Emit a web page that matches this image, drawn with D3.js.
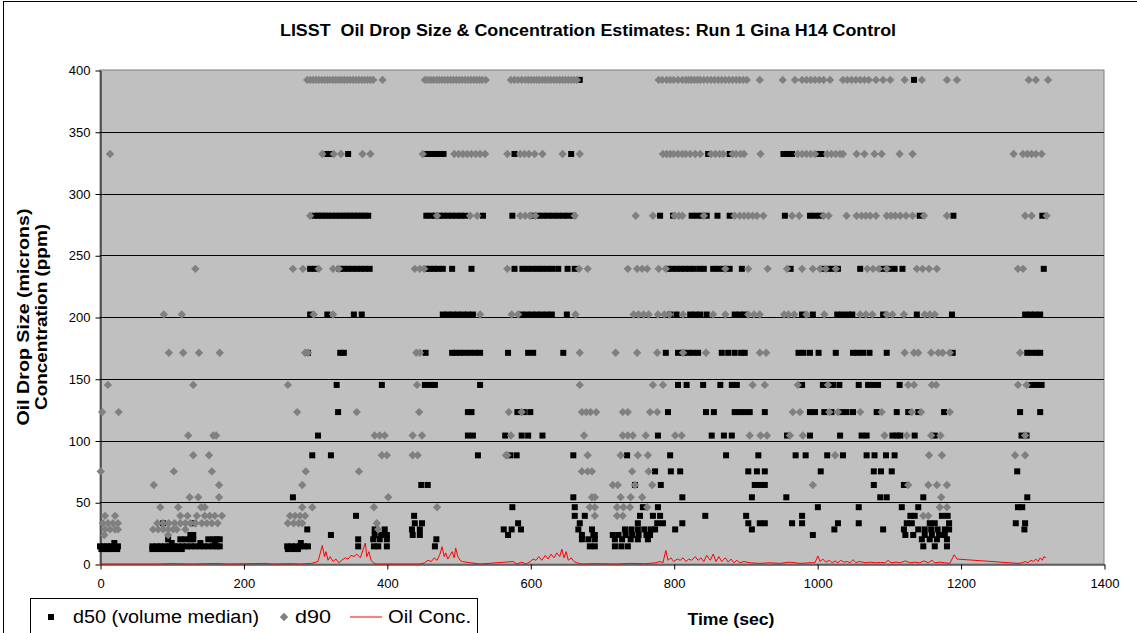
<!DOCTYPE html>
<html><head><meta charset="utf-8">
<script src="https://cdn.jsdelivr.net/npm/d3@7"></script>
<style>
body{margin:0;background:#fff;}
text{font-family:"Liberation Sans",Arial,sans-serif;}
</style>
</head><body>
<svg id="c" width="1137" height="633"></svg>
<script>
// ---- data (time in s, size in microns) ----
const title = "LISST  Oil Drop Size & Concentration Estimates: Run 1 Gina H14 Control";
const xTicks = [0,200,400,600,800,1000,1200,1400];
const yTicks = [0,50,100,150,200,250,300,350,400];

// d50 (volume median): [size bin, times at which d50 fell in that bin]
const d50Rows = [
 [392,[669,1135]],
 [332,[317,321,346,455,461,467,473,479,578,657,848,878,953,959,965,1000,1006]],
 [282,[299,304,309,314,319,324,329,334,339,344,349,354,359,364,369,374,455,461,467,473,479,485,491,497,503,509,534,575,602,611,618,625,632,639,646,653,660,781,799,825,832,839,846,861,878,955,990,997,1004,1143,1190,1314]],
 [239,[293,300,334,340,346,352,358,364,370,376,455,460,466,471,478,491,518,578,589,596,603,610,617,624,631,639,652,662,792,798,804,810,816,822,828,836,842,855,862,870,878,895,963,1008,1015,1022,1029,1060,1092,1100,1108,1119,1316]],
 [202,[293,317,354,365,478,485,492,499,506,513,520,588,595,602,609,616,623,630,651,795,804,823,830,837,846,885,892,899,979,994,1028,1035,1043,1049,1092,1139,1188,1290,1297,1304,1311]],
 [171,[290,335,340,454,491,496,502,509,516,523,530,569,597,604,646,789,806,813,820,827,834,867,876,885,894,899,974,981,990,1002,1026,1050,1057,1064,1073,1097,1189,1293,1299,1306,1311]],
 [145,[330,393,453,460,467,530,806,818,841,865,881,888,979,1008,1015,1022,1031,1058,1071,1078,1085,1115,1299,1306,1313]],
 [123,[332,513,518,582,591,600,792,845,856,885,892,899,906,927,990,997,1010,1020,1034,1041,1050,1083,1111,1127,1141,1177,1283,1311]],
 [104,[304,513,520,565,588,597,617,778,853,870,881,958,990,1032,1062,1069,1105,1111,1116,1136,1164,1285,1292]],
 [88,[296,322,527,572,581,660,735,795,873,918,970,984,1014,1036,1069,1080,1096,1108]],
 [75,[774,796,809,904,916,927,1005,1079,1089,1104,1279]],
 [64,[448,457,746,782,913,920,927,1079,1121]],
 [54,[269,660,812,909,957,1088,1097,1148,1293]],
 [46,[575,662,757,778,1001,1058,1118,1141,1280,1286]],
 [39,[357,438,662,676,753,771,781,844,901,979,1130,1136,1174,1182]],
 [33,[88,131,439,449,583,669,750,777,785,812,904,920,927,965,979,1029,1058,1125,1132,1157,1164,1184,1277,1290]],
 [28,[289,383,397,435,446,563,574,587,667,686,732,741,750,759,768,774,802,909,1024,1092,1121,1141,1150,1159,1168,1178,1184,1289]],
 [23.5,[126,130,322,383,392,400,436,446,569,672,688,690,715,723,733,742,751,762,767,994,1123,1134,1150,1160,1170,1178]],
 [20,[95,112,119,126,130,151,158,163,167,360,381,390,400,469,672,681,690,718,728,740,750,764,1146,1157,1167,1181]],
 [17,[20,100,140,160,280]],
 [14.3,[0,5,10,15,20,25,73,79,85,91,97,103,109,115,121,127,133,139,145,151,157,163,167,261,267,273,279,285,290,360,382,388,400,467,683,690,718,727,736,1148,1164,1181]],
 [12.1,[2,8,13,18,24,73,79,85,91,97,103,109,114,262,270,276]]
];

// d90: [size bin, times]
const d90Rows = [
 [392,[289,293,297,301,305,309,313,317,321,325,329,333,337,341,345,349,353,357,361,365,369,373,377,381,394,453,457,461,465,469,473,477,481,485,489,493,497,501,505,509,513,517,521,525,529,533,538,573,578,583,588,593,597,601,605,609,613,617,621,625,629,633,637,641,645,649,653,657,661,665,779,784,790,795,800,806,812,817,821,825,829,833,837,842,847,852,857,862,867,872,877,882,887,892,897,902,920,952,969,979,985,991,997,1003,1009,1018,1036,1042,1048,1054,1060,1066,1072,1082,1092,1102,1122,1146,1181,1195,1295,1305,1322]],
 [332,[14,310,326,336,366,377,450,494,500,506,512,518,524,530,537,568,586,592,598,606,617,645,669,785,790,795,800,806,812,817,823,830,837,852,858,864,869,882,887,893,898,921,973,979,985,991,997,1014,1020,1026,1032,1036,1055,1066,1080,1090,1115,1133,1274,1287,1293,1299,1305,1313]],
 [282,[293,470,516,526,586,593,600,607,662,747,771,801,807,812,842,885,892,898,904,910,916,925,965,975,1009,1016,1041,1055,1062,1068,1074,1082,1097,1103,1109,1116,1124,1133,1149,1181,1290,1299,1320]],
 [239,[133,269,283,305,325,333,439,446,452,568,668,680,736,749,756,763,779,789,872,904,931,958,979,994,1004,1012,1026,1070,1078,1086,1097,1139,1147,1156,1167,1280,1287]],
 [202,[89,114,298,325,530,574,583,663,744,751,758,765,778,787,794,813,855,872,904,912,920,954,960,968,985,1010,1060,1068,1077,1097,1105,1121,1150,1157,1164]],
 [171,[96,116,138,167,286,290,441,446,669,719,749,777,813,845,920,929,1122,1135,1141,1159,1169,1175,1185,1283]],
 [145,[11,130,262,442,669,771,785,910,927,973,1015,1127,1135,1160,1166,1280,1292]],
 [123,[3,26,275,358,445,570,588,672,678,684,692,729,736,767,777,966,976,1017,1029,1060,1090,1132,1145,1185]],
 [104,[123,158,162,383,390,397,436,449,573,675,729,736,743,761,802,811,906,921,930,962,980,1094,1125,1159,1172,1290]],
 [88,[130,152,393,400,436,443,566,568,680,726,750,764,1025,1156,1174,1276,1290]],
 [75,[1,103,156,287,361,672,680,686,742,765]],
 [64,[75,166,282,715,722,746,770,994,1127,1155,1167,1181]],
 [54,[125,137,166,402,686,690,726,740,756,1173]],
 [46,[84,109,141,146,282,296,382,470,683,690,721,730,739,763,1171,1181]],
 [39,[7,21,112,122,135,146,153,160,170,265,272,279,286,690,721,729,1148,1155]],
 [33,[4,11,18,25,80,88,96,104,112,119,126,133,142,149,156,164,262,270,277,282,386]],
 [28,[7,14,21,25,74,81,88,95,102,107,119,388]],
 [23.5,[6,95]]
];

// Oil concentration (ppm): [time, ppm]
const oilConc = [[0,0],[80,0],[100,0.3],[130,0],[160,0.4],[180,0],[230,0.5],[240,0],[265,0.3],[280,0],[295,0.5],
 [304,2],[310,15],[313,6],[315,10],[318,3],[321,6],[325,2],[329,4],[333,1],[337,3],[342,5],[346,4],[350,7],[354,6],[358,8],[363,5],[367,12],[370,17],[372,6],[375,10],[378,3],[381,1],[385,0],
 [446,0],[453,1],[457,3],[462,2],[466,5],[470,3],[474,8],[477,14],[480,6],[482,9],[485,4],[488,7],[491,10],[494,5],[496,13],[499,6],[502,3],[505,2],[516,1],[530,0],
 [576,2],[581,0],[588,1.5],[594,0],[600,2],[604,4],[608,3],[612,6],[616,3],[621,7],[625,4],[629,8],[633,5],[637,9],[641,6],[644,12],[647,5],[650,10],[653,3],[657,5],[661,2],[665,1],[672,0],
 [690,0.3],[720,0],[740,0.5],[760,0.2],[775,1],[781,2],[785,1],[789,11],[792,3],[796,5],[800,2],[805,4],[809,3],[813,5],[817,2],[821,4],[825,3],[830,6],[834,3],[838,5],[842,2],[846,7],[851,3],[855,8],[859,2],[863,6],[867,2],[872,5],[876,1.5],[880,4],[884,1],[888,3],[892,1],[898,2],
 [906,1],[920,0.5],[934,1],[948,0.5],[962,1.5],[976,0.5],[990,1],[997,1],[1001,6.5],[1004,2],[1008,4],[1012,1.5],[1017,3],[1021,1],[1025,2.5],[1029,1],[1033,3],[1037,1.5],[1042,2],[1046,1],[1050,3.5],[1054,1],[1058,2],[1063,1.5],[1068,1],[1074,1.5],[1081,1],[1088,1.2],[1095,1],[1099,3],[1103,1],[1110,1.5],[1116,1],[1123,2.5],[1129,1],[1136,1.5],[1143,1],[1149,2.5],[1155,1],[1160,3],[1164,1],[1171,1.5],[1178,1],[1185,0.5],[1191,7.5],[1195,4],
 [1280,0.5],[1286,1],[1290,2],[1294,1],[1298,3],[1302,2],[1305,4],[1308,2],[1311,5],[1314,3],[1316,6],[1319,5]];

const legendLabels = ["d50 (volume median)","d90","Oil Conc."];

// ---- drawing ----
const svg = d3.select("#c");
const L = 100, R = 1104, T = 70, B = 564;
const x = d3.scaleLinear().domain([0,1400]).range([L,R]);
const y = d3.scaleLinear().domain([0,400]).range([B,T]);

function stretched(sel, len){
  return sel.attr("textLength",len).attr("lengthAdjust","spacingAndGlyphs");
}

// outer frame
svg.append("rect").attr("x",3.5).attr("y",1.5).attr("width",1140).attr("height",660)
  .attr("fill","none").attr("stroke","#000").attr("stroke-width",1);

// title
stretched(svg.append("text").attr("x",588).attr("y",36).attr("text-anchor","middle")
  .attr("font-size","16px").attr("font-weight","bold").style("white-space","pre").text(title), 616);

// plot area
svg.append("rect").attr("x",L).attr("y",T).attr("width",R-L).attr("height",B-T)
  .attr("fill","#C0C0C0").attr("stroke","#808080").attr("stroke-width",1);

// gridlines
svg.append("g").selectAll("line").data(yTicks.filter(v=>v>0 && v<400)).join("line")
  .attr("x1",L).attr("x2",R).attr("y1",d=>Math.round(y(d))+0.5).attr("y2",d=>Math.round(y(d))+0.5)
  .attr("stroke","#000").attr("stroke-width",1);

// axes
const yAxis = svg.append("g").attr("transform",`translate(${L+0.5},0.5)`)
  .call(d3.axisLeft(y).tickValues(yTicks).tickSize(5).tickPadding(5).tickSizeOuter(0).tickFormat(d3.format("d")));
const xAxis = svg.append("g").attr("transform",`translate(0.5,${B+0.5})`)
  .call(d3.axisBottom(x).tickValues(xTicks).tickSize(5).tickPadding(9).tickSizeOuter(0).tickFormat(d3.format("d")));
[yAxis,xAxis].forEach(g=>{
  g.selectAll("text").attr("font-size","13px").attr("fill","#000")
   .attr("font-family",'"Liberation Sans",Arial,sans-serif');
  g.selectAll("line,path").attr("stroke","#000");
});

// markers
const d50Pts = d50Rows.flatMap(([s,ts])=>ts.map(t=>[t,s]));
const d90Pts = d90Rows.flatMap(([s,ts])=>ts.map(t=>[t,s]));
const sq = 6;
svg.append("g").selectAll("rect").data(d50Pts).join("rect")
  .attr("x",d=>x(d[0])-sq/2).attr("y",d=>y(d[1])-sq/2).attr("width",sq).attr("height",sq)
  .attr("fill","#000");
const diamond = "M0,-4.2L4.2,0L0,4.2L-4.2,0Z";
svg.append("g").selectAll("path").data(d90Pts).join("path")
  .attr("transform",d=>`translate(${x(d[0])},${y(d[1])})`).attr("d",diamond)
  .attr("fill","#808080");

// oil concentration line
svg.append("path").datum(oilConc)
  .attr("d",d3.line().x(d=>x(d[0])).y(d=>y(d[1])))
  .attr("fill","none").attr("stroke","#FF0000").attr("stroke-width",1);

// axis titles
stretched(svg.append("text").attr("transform","translate(29,317) rotate(-90)")
  .attr("text-anchor","middle").attr("font-size","17px").attr("font-weight","bold")
  .text("Oil Drop Size (microns)"), 217);
stretched(svg.append("text").attr("transform","translate(47,317) rotate(-90)")
  .attr("text-anchor","middle").attr("font-size","17px").attr("font-weight","bold")
  .text("Concentration (ppm)"), 186);
stretched(svg.append("text").attr("x",731).attr("y",625).attr("text-anchor","middle")
  .attr("font-size","16px").attr("font-weight","bold").text("Time (sec)"), 87);

// legend
const lg = svg.append("g");
lg.append("rect").attr("x",30.5).attr("y",598.5).attr("width",447).attr("height",60)
  .attr("fill","#fff").attr("stroke","#000");
const ly = 617;
lg.append("rect").attr("x",48).attr("y",ly-3).attr("width",6).attr("height",6).attr("fill","#000");
stretched(lg.append("text").attr("x",73).attr("y",ly+6).attr("font-size","18px").text(legendLabels[0]), 186);
lg.append("path").attr("transform",`translate(284,${ly})`).attr("d",diamond).attr("fill","#808080");
stretched(lg.append("text").attr("x",295).attr("y",ly+6).attr("font-size","18px").text(legendLabels[1]), 36);
lg.append("line").attr("x1",350).attr("x2",382).attr("y1",ly).attr("y2",ly).attr("stroke","#FF0000");
stretched(lg.append("text").attr("x",388).attr("y",ly+6).attr("font-size","18px").text(legendLabels[2]), 83);
</script>
</body></html>
